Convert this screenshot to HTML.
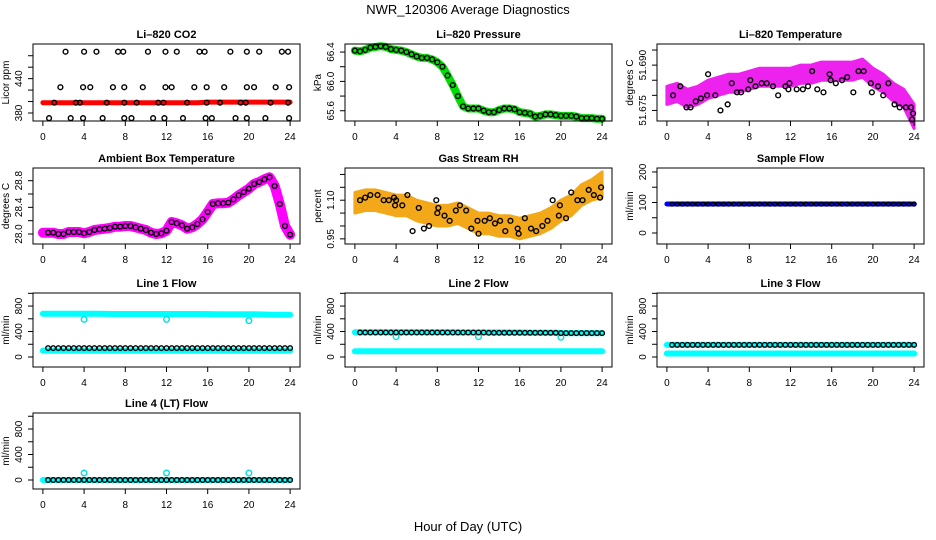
<!DOCTYPE html>
<html><head><meta charset="utf-8"><style>
html,body{margin:0;padding:0;background:#fff}
svg{display:block;font-family:"Liberation Sans",sans-serif}
</style></head><body>
<svg id="chart" width="936" height="540" viewBox="0 0 936 540">
<text x="468" y="14" text-anchor="middle" font-size="13">NWR_120306  Average Diagnostics</text>
<text x="468" y="531" text-anchor="middle" font-size="13">Hour of Day (UTC)</text>
</svg>
<script>
// ---------- data ----------
const xTicks = [0,4,8,12,16,20,24];
const halfHours = [0,0.5,1,1.5,2,2.5,3,3.5,4,4.5,5,5.5,6,6.5,7,7.5,8,8.5,9,9.5,10,10.5,11,11.5,12,12.5,13,13.5,14,14.5,15,15.5,16,16.5,17,17.5,18,18.5,19,19.5,20,20.5,21,21.5,22,22.5,23,23.5,24];
const hours = [0,1,2,3,4,5,6,7,8,9,10,11,12,13,14,15,16,17,18,19,20,21,22,23,24];

// CO2
const co2Line = [398,398,398,398,398,398,398,398,398,398,398,398,398,398,398,398,399,399,399,399,399,399,399,399,399];
const co2PtHours = [2.2,4,5.2,7.3,7.8,10.2,11.9,13,15.2,15.7,18.2,19.8,21,23.2,23.8, 1.7,3.9,4.6,6.8,7.9,9.7,11.9,12.5,14.7,15.9,17.6,19.8,20.5,22.6,23.9, 1.1,3.2,3.6,6.2,7.9,9.1,11.2,11.7,14,15.9,17.2,19.2,19.7,22.1,23.8, 0.6,2.7,3.9,5.8,7.9,8.6,10.7,11.8,13.6,15.8,16.4,18.7,19.8,21.6,23.9];
const co2PtVals = [487,487,487,487,487,487,487,487,487,487,487,487,487,487,487, 425,425,425,425,425,425,425,425,425,425,425,425,425,425,425, 398,398,398,398,398,398,398,398,398,398,398,398,398,398,398, 371,371,371,371,371,371,371,371,371,371,371,371,371,371,371];

// Pressure
const presVals = [66.42,66.41,66.43,66.46,66.47,66.48,66.47,66.44,66.43,66.42,66.40,66.37,66.34,66.32,66.32,66.30,66.26,66.20,66.08,65.95,65.80,65.66,65.63,65.63,65.63,65.60,65.58,65.58,65.61,65.63,65.63,65.62,65.58,65.57,65.56,65.52,65.53,65.55,65.55,65.54,65.53,65.53,65.53,65.52,65.50,65.50,65.50,65.49,65.49];

// Li-820 temperature
const ltMean = [51.680,51.681,51.679,51.680,51.682,51.683,51.684,51.684,51.685,51.686,51.686,51.686,51.686,51.687,51.687,51.688,51.688,51.688,51.688,51.689,51.686,51.684,51.681,51.679,51.673];
const ltSpread = [0.003,0.003,0.003,0.003,0.003,0.003,0.003,0.003,0.003,0.003,0.003,0.003,0.003,0.003,0.003,0.003,0.003,0.003,0.003,0.003,0.003,0.003,0.003,0.003,0.004];
const ltPtHours = [0.6,1.3,1.9,2.3,2.8,3.3,3.9,4.0,4.7,5.2,5.9,6.3,6.8,7.2,7.9,8.1,8.6,9.2,9.7,10.3,10.8,11.5,11.8,11.9,12.6,13.2,13.7,14.1,14.6,15.2,15.8,15.9,16.4,17.0,17.5,18.1,18.6,19.1,19.8,19.9,20.5,21.0,21.5,22.1,22.6,23.2,23.7,23.8,23.9];
const ltPtVals = [51.680,51.683,51.676,51.676,51.678,51.679,51.680,51.687,51.680,51.675,51.677,51.684,51.681,51.681,51.682,51.685,51.683,51.684,51.684,51.683,51.680,51.683,51.682,51.684,51.682,51.682,51.683,51.688,51.682,51.681,51.687,51.685,51.684,51.685,51.686,51.681,51.688,51.688,51.684,51.681,51.683,51.680,51.684,51.677,51.676,51.676,51.676,51.672,51.674];

// Ambient box temperature
const ambHours = [0,0.5,1,1.5,2,2.5,3,3.5,4,4.5,5,5.5,6,6.5,7,7.5,8,8.5,9,9.5,10,10.5,11,11.5,12,12.5,13,13.5,14,14.5,15,15.5,16,16.5,17,17.5,18,18.5,19,19.5,20,20.5,21,21.5,22,22.5,23,23.5,24];
const ambVals = [28.02,28.02,28.02,28.00,28.00,28.03,28.03,28.03,28.01,28.03,28.06,28.07,28.08,28.09,28.11,28.11,28.12,28.12,28.10,28.08,28.06,28.02,28.00,28.01,28.05,28.18,28.16,28.13,28.08,28.10,28.15,28.22,28.33,28.45,28.46,28.46,28.47,28.52,28.58,28.63,28.68,28.75,28.78,28.82,28.85,28.72,28.45,28.12,27.99];

// Gas stream RH
const rhMean = [1.09,1.10,1.10,1.09,1.08,1.08,1.06,1.05,1.04,1.04,1.05,1.03,1.01,1.01,1.00,1.00,0.99,1.00,1.01,1.03,1.06,1.08,1.12,1.14,1.16];
const rhSpread = [0.04,0.04,0.04,0.04,0.04,0.04,0.04,0.04,0.04,0.04,0.04,0.04,0.04,0.04,0.04,0.04,0.04,0.04,0.04,0.04,0.04,0.04,0.04,0.04,0.05];
const rhPtHours = [0.5,1.0,1.5,2.2,2.8,3.3,3.8,3.9,4.0,4.6,5.1,5.6,6.2,6.7,7.2,7.9,8.0,8.1,8.7,9.2,9.8,10.2,10.8,11.3,11.9,12.0,12.6,13.1,13.6,14.1,14.6,15.1,15.8,15.9,16.5,17.1,17.6,18.2,18.7,19.2,19.8,19.9,20.5,21.0,21.6,22.1,22.7,23.2,23.8,23.9];
const rhPtVals = [1.10,1.11,1.12,1.12,1.10,1.10,1.11,1.08,1.10,1.08,1.12,0.98,1.07,0.99,1.00,1.10,1.05,1.07,1.04,1.02,1.06,1.08,1.06,0.99,1.02,0.97,1.02,1.03,1.01,1.02,0.98,1.02,0.99,0.97,1.03,0.99,0.98,1.00,1.02,1.10,1.04,1.08,1.03,1.13,1.10,1.10,1.14,1.12,1.11,1.15];

// Flows (values per half hour)
const sampleFlow = [95,95,95,95,95,95,95,95,95,95,95,95,95,95,95,95,95,95,95,95,95,95,95,95,95,95,95,95,95,95,95,95,95,95,95,95,95,95,95,95,95,95,95,95,95,95,95,95,95];
const line1High = [680,680,680,680,675,675,675,675,675,675,670,670,670,665,665];
const line1Low = [100,100,100,100,100,100,100,100,100,100,100,100,100,100,100];
const line1Black = [140,140,140,140,140,140,140,140,140,140,140,140,140,140,140];
const line2High = [390,390,390,390,390,390,385,385,385,385,380,380,375,375,375];
const line2Low = [90,90,90,90,90,90,90,90,90,90,90,90,90,90,90];
const line2Black = [385,385,385,385,385,385,385,385,380,380,380,380,375,375,375];
const line3High = [190,190,190,190,190,190,190,190,190,190,190,190,190,190,190];
const line3Low = [55,55,55,55,55,55,55,55,55,55,55,55,55,55,55];
const line3Black = [190,190,190,190,190,190,190,190,190,190,190,190,190,190,190];
const line4High = [0,0,0,0,0,0,0,0,0,0,0,0,0,0,0];
const line4Black = [0,0,0,0,0,0,0,0,0,0,0,0,0,0,0];
const flowSegHours = [0,1.7,3.4,5.1,6.9,8.6,10.3,12,13.7,15.4,17.1,18.9,20.6,22.3,24];
const outlierHours = [4,12,20];
const line1Outliers = [590,590,570];
const line2Outliers = [320,320,310];
const line4Outliers = [110,110,110];

// ---------- drawing ----------
const NS = "http://www.w3.org/2000/svg";
const svg = document.getElementById('chart');
function mk(tag, attrs, parent){
  const e = document.createElementNS(NS, tag);
  for (const k in attrs) e.setAttribute(k, attrs[k]);
  (parent||svg).appendChild(e);
  return e;
}
function makePanel(o){
  const g = mk('g', {});
  
  
  o.g = g;
  o.x = h => o.l + (h + 0.96) / 25.92 * (o.r - o.l);
  o.y = v => o.b - (v - o.ymin) / (o.ymax - o.ymin) * (o.b - o.t);
  const marks = mk('g', {}, g);
  
  
  o.m = marks;
  return o;
}
function finishPanel(o){
  const g = o.g;
  const box = mk('rect', {x:o.l, y:o.t, width:o.r-o.l, height:o.b-o.t, fill:'none', stroke:'#000', 'stroke-width':1}, g);
  
  
  const t = mk('text', {x:(o.l+o.r)/2, y:o.t-6, 'text-anchor':'middle', 'font-size':11, 'font-weight':'bold'}, g);
  t.textContent = o.title;
  
  
  // x axis
  xTicks.forEach(h => {
    const X = o.x(h);
    mk('line', {x1:X, x2:X, y1:o.b, y2:o.b+5, stroke:'#000'}, g);
    const lb = mk('text', {x:X, y:o.b+19, 'text-anchor':'middle', 'font-size':10}, g);
    lb.textContent = h;
    
    
  });
  // y axis
  o.yTicks.forEach(v => {
    const Y = o.y(v);
    mk('line', {x1:o.l-5, x2:o.l, y1:Y, y2:Y, stroke:'#000'}, g);
  });
  o.yLabels.forEach((v, i) => {
    const Y = o.y(v);
    const X = o.l - 11;
    const lb = mk('text', {x:X, y:Y, 'text-anchor':'middle', 'font-size':10, transform:`rotate(-90 ${X} ${Y})`}, g);
    lb.textContent = o.yLabelText[i];
    
    
  });
  const yc = (o.t+o.b)/2, xl = o.l - 24;
  const yt = mk('text', {x:xl, y:yc, 'text-anchor':'middle', 'font-size':10, transform:`rotate(-90 ${xl} ${yc})`}, g);
  yt.textContent = o.ylabel;
  
  
}
function circ(o, h, v, color, r){
  const c = mk('circle', {cx:o.x(h), cy:o.y(v), r:r||2.4, fill:'none', stroke:color, 'stroke-width':1.4}, o.m);
  
  
}
function poly(o, xs, vs, color, w){
  const pts = xs.map((h,i) => o.x(h).toFixed(1)+','+o.y(vs[i]).toFixed(1)).join(' ');
  const p = mk('polyline', {points:pts, fill:'none', stroke:color, 'stroke-width':w, 'stroke-linejoin':'round', 'stroke-linecap':'round'}, o.m);
  
  
}
function band(o, xs, mean, spread, color){
  const up = xs.map((h,i) => o.x(h).toFixed(1)+','+o.y(mean[i]+spread[i]).toFixed(1));
  const dn = xs.map((h,i) => o.x(h).toFixed(1)+','+o.y(mean[i]-spread[i]).toFixed(1)).reverse();
  const p = mk('polygon', {points:up.concat(dn).join(' '), fill:color, stroke:color, 'stroke-width':3, 'stroke-linejoin':'round'}, o.m);
  
  
}

const C1=[33,300], C2=[345,612], C3=[657,924];
const R1=[44,121], R2=[168,244], R3=[293,367], R4=[413,489];

// Li-820 CO2
let p = makePanel({name:'co2-panel', title:'Li–820 CO2', ylabel:'Licor ppm', l:C1[0], r:C1[1], t:R1[0], b:R1[1], ymin:366, ymax:500.5,
  yTicks:[380,400,420,440,460,480], yLabels:[380,440], yLabelText:['380','440']});
poly(p, hours, co2Line, '#ff0000', 5);
co2PtHours.forEach((h,i) => circ(p, h, co2PtVals[i], '#000'));
finishPanel(p);

// Pressure
p = makePanel({name:'pressure-panel', title:'Li–820 Pressure', ylabel:'kPa', l:C2[0], r:C2[1], t:R1[0], b:R1[1], ymin:65.46, ymax:66.51,
  yTicks:[65.6,65.8,66.0,66.2,66.4], yLabels:[65.6,66.0,66.4], yLabelText:['65.6','66.0','66.4']});
poly(p, halfHours, presVals, '#00dd00', 8);
halfHours.forEach((h,i) => circ(p, h, presVals[i], '#000'));
finishPanel(p);

// Li-820 Temperature
p = makePanel({name:'licor-temp-panel', title:'Li–820 Temperature', ylabel:'degrees C', l:C3[0], r:C3[1], t:R1[0], b:R1[1], ymin:51.6715, ymax:51.697,
  yTicks:[51.675,51.68,51.685,51.69,51.695], yLabels:[51.675,51.69], yLabelText:['51.675','51.690']});
band(p, hours, ltMean, ltSpread, '#ee22ee');
ltPtHours.forEach((h,i) => circ(p, h, ltPtVals[i], '#000'));
finishPanel(p);

// Ambient
p = makePanel({name:'ambient-temp-panel', title:'Ambient Box Temperature', ylabel:'degrees C', l:C1[0], r:C1[1], t:R2[0], b:R2[1], ymin:27.85, ymax:28.99,
  yTicks:[28.0,28.2,28.4,28.6,28.8], yLabels:[28.0,28.4,28.8], yLabelText:['28.0','28.4','28.8']});
poly(p, ambHours, ambVals, '#ff00ff', 10);
ambHours.forEach((h,i) => { if (i>0) circ(p, h, ambVals[i], '#000'); });
finishPanel(p);

// RH
p = makePanel({name:'rh-panel', title:'Gas Stream RH', ylabel:'percent', l:C2[0], r:C2[1], t:R2[0], b:R2[1], ymin:0.93, ymax:1.225,
  yTicks:[0.95,1.0,1.05,1.1,1.15,1.2], yLabels:[0.95,1.1], yLabelText:['0.95','1.10']});
band(p, hours, rhMean, rhSpread, '#f2a818');
rhPtHours.forEach((h,i) => circ(p, h, rhPtVals[i], '#000'));
finishPanel(p);

// Sample flow
p = makePanel({name:'sample-flow-panel', title:'Sample Flow', ylabel:'ml/min', l:C3[0], r:C3[1], t:R2[0], b:R2[1], ymin:-36, ymax:213,
  yTicks:[0,50,100,150,200], yLabels:[0,100,200], yLabelText:['0','100','200']});
poly(p, halfHours, sampleFlow, '#0000ff', 5);
halfHours.forEach((h,i) => { if (i>0) circ(p, h, sampleFlow[i], '#000', 2); });
finishPanel(p);

function flowPanel(name, title, C, R, ymin, ymax, hi, lo, blk, outs){
  const q = makePanel({name:name, title:title, ylabel:'ml/min', l:C[0], r:C[1], t:R[0], b:R[1], ymin:ymin, ymax:ymax,
    yTicks:[0,200,400,600,800,1000], yLabels:[0,400,800], yLabelText:['0','400','800']});
  poly(q, flowSegHours, hi, '#00ffff', 6);
  if (lo) poly(q, flowSegHours, lo, '#00ffff', 6);
  if (outs) outlierHours.forEach((h,i) => circ(q, h, outs[i], '#00e0e0', 2.8));
  halfHours.forEach((h,i) => { if (i>0) { const k = Math.min(14, Math.round(h/24*14)); circ(q, h, blk[k], '#000', 2.3); } });
  finishPanel(q);
}
flowPanel('line1-flow-panel', 'Line 1 Flow', C1, R3, -157, 1005, line1High, line1Low, line1Black, line1Outliers);
flowPanel('line2-flow-panel', 'Line 2 Flow', C2, R3, -157, 1005, line2High, line2Low, line2Black, line2Outliers);
flowPanel('line3-flow-panel', 'Line 3 Flow', C3, R3, -157, 1005, line3High, line3Low, line3Black, null);
flowPanel('line4-flow-panel', 'Line 4 (LT) Flow', C1, R4, -141, 1051, line4High, null, line4Black, line4Outliers);
</script>
</body></html>
